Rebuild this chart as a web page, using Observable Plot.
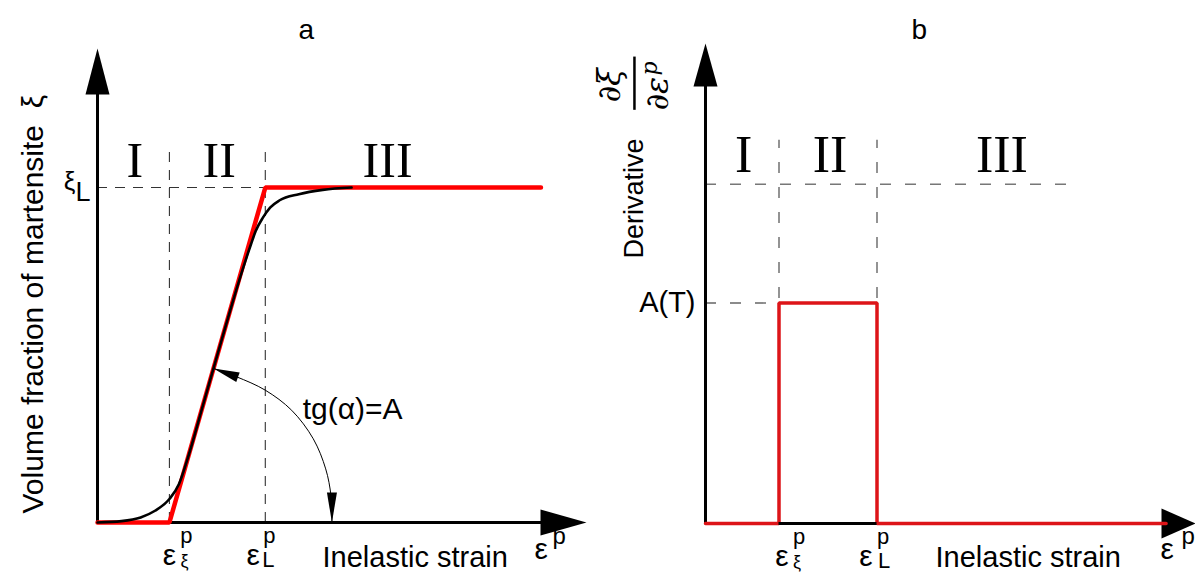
<!DOCTYPE html>
<html><head><meta charset="utf-8">
<script src="https://cdn.jsdelivr.net/npm/d3@7"></script>
<script src="https://cdn.jsdelivr.net/npm/@observablehq/plot@0.6"></script>
<style>
body{margin:0;background:#fff;}
#wrap{position:relative;width:1195px;height:572px;overflow:hidden;display:flex;background:#fff;}
#wrap svg{overflow:visible;}
</style></head><body><div id="wrap"></div>
<script>
// ---------- data ----------
const epsXi = 1.5;          // ε_ξ^p
const epsL = 3.5;           // ε_L^p
const xiL = 1.0;            // ξ_L
const A_T = 0.65;           // A(T)
const yMax = 1.415;
const xMaxA = 10.2, xMaxB = 10;
const regionNames = ["I", "II", "III"];
const regionX = [0.78, 2.54, 6.05];
// panel a: piecewise linear (red) approximation
const redAx = [0, epsXi, epsL, 9.25];
const redAy = [0, 0, xiL, xiL];
// panel a: smooth martensite fraction curve (black)
const blackX = [0, 0.5, 0.9, 1.2, 1.5, 1.7, 1.9, 2.2, 2.6, 2.95, 3.2, 3.3, 3.45, 3.6, 3.8, 4.2, 4.7, 5.3];
const blackY = [0, 0.004, 0.015, 0.035, 0.07, 0.115, 0.2, 0.35, 0.55, 0.72, 0.83, 0.87, 0.91, 0.94, 0.962, 0.98, 0.993, 1.0];
// panel a: angle arc
const arcX = [2.42, 2.9, 3.5, 4.05, 4.5, 4.76, 4.87, 4.89];
const arcY = [0.46, 0.435, 0.395, 0.335, 0.25, 0.16, 0.08, 0.0];
// panel b: derivative (red)
const redBx = [0, epsXi, epsXi, epsL, epsL, 9.4];
const redBy = [0, 0, A_T, A_T, 0, 0];

const redA = redAx.map((x, i) => ({x, y: redAy[i]}));
const blackA = blackX.map((x, i) => ({x, y: blackY[i]}));
const arcA = arcX.map((x, i) => ({x, y: arcY[i]}));
const redB = redBx.map((x, i) => ({x, y: redBy[i]}));
const regions = regionNames.map((t, i) => ({t, x: regionX[i]}));

// filled arrow-head symbol: tip at origin, pointing up
const head = (L, W) => ({draw(ctx) { ctx.moveTo(0, 0); ctx.lineTo(W / 2, L); ctx.lineTo(-W / 2, L); ctx.closePath(); }});
const SANS = "Liberation Sans, Arial, sans-serif";
const SERIF = "Liberation Serif, Times New Roman, serif";
const MATH = "DejaVu Serif, serif";

function tickLabel(x, sub, o) {
  return [
    Plot.text([x], {x: d => d, y: 0, text: () => "ε", fontSize: 30, lineAnchor: "bottom", dx: o.e, dy: 42}),
    Plot.text([x], {x: d => d, y: 0, text: () => "p", fontSize: 22, lineAnchor: "bottom", dx: o.p, dy: 20}),
    Plot.text([x], {x: d => d, y: 0, text: () => sub, fontSize: sub === "L" ? 22 : 18, lineAnchor: "bottom", dx: o.s, dy: sub === "L" ? 44 : 44})
  ];
}

// ---------- panel a ----------
const plotA = Plot.plot({
  width: 597, height: 572,
  marginLeft: 97, marginRight: 11, marginTop: 48, marginBottom: 50,
  x: {domain: [0, xMaxA], axis: null},
  y: {domain: [0, yMax], axis: null},
  style: {fontFamily: SANS, background: "white", overflow: "visible"},
  marks: [
    Plot.ruleX([epsXi, epsL], {x: d => d, y1: 0, y2: 1.125, stroke: "#333", strokeWidth: 1.1, strokeDasharray: "10,8"}),
    Plot.ruleY([xiL], {y: d => d, x1: 0, x2: epsL, stroke: "#333", strokeWidth: 1.1, strokeDasharray: "10,8"}),
    Plot.ruleY([0], {x1: 0, x2: xMaxA - 0.5, stroke: "black", strokeWidth: 3}),
    Plot.ruleX([0], {y1: 0, y2: yMax - 0.08, stroke: "black", strokeWidth: 3}),
    Plot.dot([0], {x: 0, y: yMax, symbol: head(46, 24), fill: "black", stroke: "none"}),
    Plot.dot([0], {x: xMaxA, y: 0, symbol: head(46, 26), fill: "black", stroke: "none", rotate: 90}),
    Plot.line(redA, {x: "x", y: "y", stroke: "#ff0000", strokeWidth: 4.5, strokeLinejoin: "miter"}),
    Plot.line(blackA, {x: "x", y: "y", stroke: "black", strokeWidth: 2.6, curve: "monotone-x"}),
    Plot.line(arcA, {x: "x", y: "y", stroke: "black", strokeWidth: 1, curve: "catmull-rom"}),
    Plot.dot([arcA[0]], {x: "x", y: "y", symbol: head(26, 10), fill: "black", stroke: "none", rotate: -70}),
    Plot.dot([arcA[arcA.length - 1]], {x: "x", y: "y", symbol: head(30, 10), fill: "black", stroke: "none", rotate: 180}),
    Plot.text(regions, {x: "x", y: 1.03, text: "t", fontFamily: SERIF, fontSize: 50, lineAnchor: "bottom"}),
    Plot.text(["tg(α)=A"], {x: 4.28, y: 0.31, text: d => d, fontSize: 30, textAnchor: "start", lineAnchor: "bottom"}),
    Plot.text(["ξ"], {x: 0, y: xiL, text: d => d, fontSize: 26, textAnchor: "end", lineAnchor: "bottom", dx: -22, dy: 2}),
    Plot.text(["L"], {x: 0, y: xiL, text: d => d, fontSize: 27, textAnchor: "start", lineAnchor: "bottom", dx: -22, dy: 13}),
    ...tickLabel(epsXi, "ξ", {e: 0, p: 17, s: 15}),
    ...tickLabel(epsL, "L", {e: -12, p: 4, s: 3}),
    Plot.text(["Inelastic strain"], {frameAnchor: "bottom-left", text: d => d, fontSize: 29, textAnchor: "start", lineAnchor: "bottom", dx: 225, dy: 44}),
    Plot.text(["ε"], {frameAnchor: "bottom-left", text: d => d, fontSize: 30, lineAnchor: "bottom", dx: 437, dy: 36}),
    Plot.text(["p"], {frameAnchor: "bottom-left", text: d => d, fontSize: 24, lineAnchor: "bottom", dx: 455, dy: 21}),
    Plot.text(["Volume fraction of martensite  ξ"], {frameAnchor: "bottom-left", text: d => d, fontSize: 30, rotate: -90, textAnchor: "start", lineAnchor: "bottom", dx: -55, dy: -9}),
    Plot.text(["a"], {frameAnchor: "top-left", text: d => d, fontSize: 28, lineAnchor: "bottom", dx: 201, dy: -10})
  ]
});

// ---------- panel b ----------
const plotB = Plot.plot({
  width: 598, height: 572,
  marginLeft: 108, marginRight: 0, marginTop: 43, marginBottom: 49,
  x: {domain: [0, xMaxB], axis: null},
  y: {domain: [0, yMax], axis: null},
  style: {fontFamily: SANS, background: "white", overflow: "visible"},
  marks: [
    Plot.ruleX([epsXi, epsL], {x: d => d, y1: 0, y2: 1.13, stroke: "#666", strokeWidth: 1.4, strokeDasharray: "11,14"}),
    Plot.ruleY([xiL], {y: d => d, x1: 0, x2: 7.39, stroke: "#777", strokeWidth: 1.4, strokeDasharray: "11,14"}),
    Plot.ruleY([A_T], {y: d => d, x1: 0, x2: epsXi, stroke: "#666", strokeWidth: 1.4, strokeDasharray: "11,14"}),
    Plot.ruleY([0], {x1: 0, x2: xMaxB - 0.5, stroke: "black", strokeWidth: 3}),
    Plot.ruleX([0], {y1: 0, y2: yMax - 0.08, stroke: "black", strokeWidth: 3}),
    Plot.dot([0], {x: 0, y: yMax, symbol: head(43, 24), fill: "black", stroke: "none"}),
    Plot.dot([0], {x: xMaxB, y: 0, symbol: head(34, 30), fill: "black", stroke: "none", rotate: 90}),
    Plot.line(redB, {x: "x", y: "y", stroke: "#dd1418", strokeWidth: 3.5, strokeLinejoin: "miter"}),
    Plot.ruleY([0], {x1: epsXi, x2: epsL, stroke: "black", strokeWidth: 3}),
    Plot.text(regions, {x: "x", y: 1.035, text: "t", fontFamily: SERIF, fontSize: 52, lineAnchor: "bottom"}),
    Plot.text(["A(T)"], {x: 0, y: A_T, text: d => d, fontSize: 29, textAnchor: "end", lineAnchor: "middle", dx: -10}),
    ...tickLabel(epsXi, "ξ", {e: 3, p: 20, s: 18}),
    ...tickLabel(epsL, "L", {e: -11, p: 6, s: 7}),
    Plot.text(["Inelastic strain"], {frameAnchor: "bottom-left", text: d => d, fontSize: 29, textAnchor: "start", lineAnchor: "bottom", dx: 230, dy: 43}),
    Plot.text(["ε"], {frameAnchor: "bottom-left", text: d => d, fontSize: 30, lineAnchor: "bottom", dx: 455, dy: 35}),
    Plot.text(["p"], {frameAnchor: "bottom-left", text: d => d, fontSize: 24, lineAnchor: "bottom", dx: 476, dy: 20}),
    Plot.text(["Derivative"], {frameAnchor: "top-left", text: d => d, fontSize: 27, rotate: -90, textAnchor: "start", lineAnchor: "bottom", dx: -63, dy: 215}),
    Plot.text(["∂ξ"], {frameAnchor: "top-left", text: d => d, fontSize: 32, fontStyle: "italic", fontFamily: MATH, rotate: -90, textAnchor: "middle", lineAnchor: "bottom", dx: -86, dy: 42}),
    Plot.ruleX([-1.45], {x: d => d, y1: 1.218, y2: 1.375, stroke: "black", strokeWidth: 2.5}),
    Plot.text(["∂ε"], {frameAnchor: "top-left", text: d => d, fontSize: 32, fontStyle: "italic", fontFamily: MATH, rotate: -90, textAnchor: "start", lineAnchor: "bottom", dx: -38, dy: 67}),
    Plot.text(["p"], {frameAnchor: "top-left", text: d => d, fontSize: 22, fontStyle: "italic", fontFamily: MATH, rotate: -90, textAnchor: "start", lineAnchor: "bottom", dx: -49, dy: 32}),
    Plot.text(["b"], {frameAnchor: "top-left", text: d => d, fontSize: 28, lineAnchor: "bottom", dx: 206, dy: -5})
  ]
});

const wrap = document.getElementById("wrap");
wrap.appendChild(plotA);
wrap.appendChild(plotB);
</script>
</body></html>
